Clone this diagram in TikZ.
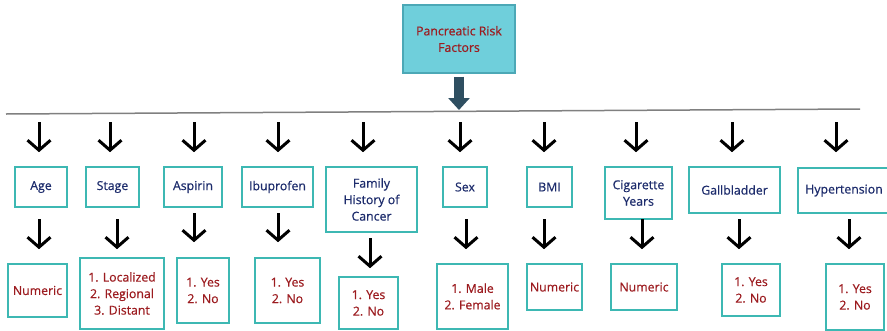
\documentclass[tikz,border=0pt]{standalone}
\usepackage{fontspec}
\setmainfont[FakeBold=0.6]{Open Sans}
\definecolor{boxteal}{HTML}{3DB8B3}
\definecolor{headcyan}{HTML}{6FCFDB}
\definecolor{headedge}{HTML}{4CA8B6}
\definecolor{catnavy}{HTML}{1D2C6C}
\definecolor{valred}{HTML}{9C1C20}
\definecolor{slateblue}{HTML}{2F4F61}
\usetikzlibrary{arrows.meta}

\begin{document}
\begin{tikzpicture}[
  x=1pt, y=-1pt,
  every node/.style={font=\fontsize{12.3}{16.5}\selectfont},
  head/.style={draw=headedge, fill=headcyan, line width=1.3pt,
    minimum width=112pt, minimum height=68pt, align=center, text=valred},
  cat/.style={draw=boxteal, line width=1.6pt, inner sep=2pt,
    align=center, text=catnavy},
  val/.style={draw=boxteal, line width=1.6pt, inner sep=2pt,
    align=center, text=valred},
  down/.style={-{Straight Barb[length=10pt,width=23pt]}, line width=3pt},
  bigdown/.style={-{Triangle[length=12pt,width=21pt]}, line width=10pt,
    slateblue},
]
\useasboundingbox (0,0) rectangle (887,330);

% Root and bar
\node[head] (risk) at (459,39) {Pancreatic Risk\\Factors};
\coordinate (barL) at (6,114);
\coordinate (barR) at (860,109);
\coordinate (hub) at (459,110);
\draw[line width=1.5pt, gray] (barL) -- (barR);
\draw[bigdown] ([yshift=-3pt]risk.south) -- (hub);

% Risk factors
\node[cat, minimum width=52pt, minimum height=40pt] (age) at (41,187) {Age};
\node[cat, minimum width=53pt, minimum height=40pt] (stage) at (112.5,187) {Stage};
\node[cat, minimum width=58pt, minimum height=40pt] (aspirin) at (193,187) {Aspirin};
\node[cat, minimum width=71pt, minimum height=40pt] (ibuprofen) at (277.5,187) {Ibuprofen};
\node[cat, minimum width=91pt, minimum height=65pt] (family) at (371.5,199.5) {Family\\History of\\Cancer};
\node[cat, minimum width=44pt, minimum height=40pt] (sex) at (465,187) {Sex};
\node[cat, minimum width=45pt, minimum height=40pt] (bmi) at (549.5,187) {BMI};
\node[cat, minimum width=67pt, minimum height=52pt] (cigarette) at (638.5,193) {Cigarette\\Years};
\node[cat, minimum width=91pt, minimum height=46pt] (gallbladder) at (734.5,190) {Gallbladder};
\node[cat, minimum width=92pt, minimum height=45pt] (hypertension) at (844,190.5) {Hypertension};

% Coding of each factor
\node[val, minimum width=59pt, minimum height=53pt] (agev) at (37.5,290.5) {Numeric};
\node[val, minimum width=84pt, minimum height=71pt] (stagev) at (122,293.5) {1. Localized\\2. Regional\\3. Distant};
\node[val, minimum width=52pt, minimum height=65pt] (aspirinv) at (203,290.5) {1. Yes\\2. No};
\node[val, minimum width=65pt, minimum height=65pt] (ibuprofenv) at (287.5,290.5) {1. Yes\\2. No};
\node[val, minimum width=59pt, minimum height=52pt] (familyv) at (368.5,303) {1. Yes\\2. No};
\node[val, minimum width=71pt, minimum height=65pt] (sexv) at (472.5,296.5) {1. Male\\2. Female};
\node[val, minimum width=55pt, minimum height=46pt] (bmiv) at (554.5,287) {Numeric};
\node[val, minimum width=66pt, minimum height=46pt] (cigarettev) at (644,287) {Numeric};
\node[val, minimum width=58pt, minimum height=52pt] (gallbladderv) at (751,290) {1. Yes\\2. No};
\node[val, minimum width=58pt, minimum height=66pt] (hypertensionv) at (855,297) {1. Yes\\2. No};

% Arrows from the bar
\draw[down] ([xshift=-2pt]age.north) ++(0,-44) -- ++(0,30);
\draw[down] ([xshift=-2.5pt]stage.north) ++(0,-44) -- ++(0,30);
\draw[down] ([xshift=1pt]aspirin.north) ++(0,-44) -- ++(0,30);
\draw[down] ([xshift=0.5pt]ibuprofen.north) ++(0,-44) -- ++(0,30);
\draw[down] ([xshift=-8.5pt]family.north) ++(0,-44) -- ++(0,30);
\draw[down] ([xshift=-5pt]sex.north) ++(0,-44) -- ++(0,30);
\draw[down] ([xshift=-5.5pt]bmi.north) ++(0,-44) -- ++(0,30);
\draw[down] ([xshift=-2.5pt]cigarette.north) ++(0,-44) -- ++(0,30);
\draw[down] ([xshift=-2.5pt]gallbladder.north) ++(0,-44) -- ++(0,30);
\draw[down] ([xshift=-8pt]hypertension.north) ++(0,-45) -- ++(0,30);

% Arrows to the codings
\draw[down] ([xshift=1.5pt]agev.north) ++(0,-44) -- ++(0,30);
\draw[down] ([xshift=-5pt]stagev.north) ++(0,-38) -- ++(0,30);
\draw[down] ([xshift=-9pt]aspirinv.north) ++(0,-44) -- ++(0,29);
\draw[down] ([xshift=-9.5pt]ibuprofenv.north) ++(0,-44) -- ++(0,29);
\draw[down] ([xshift=1.5pt]familyv.north) ++(0,-38) -- ++(0,30);
\draw[down] ([xshift=-6.5pt]sexv.north) ++(0,-44) -- ++(0,30);
\draw[down] ([xshift=-10.5pt]bmiv.north) ++(0,-44) -- ++(0,30);
\draw[down] ([xshift=-2pt]cigarettev.north) ++(0,-44) -- ++(0,30);
\draw[down] ([xshift=-12pt]gallbladderv.north) ++(0,-44) -- ++(0,30);
\draw[down] ([xshift=-6pt]hypertensionv.north) ++(0,-44) -- ++(0,30);
\end{tikzpicture}
\end{document}
